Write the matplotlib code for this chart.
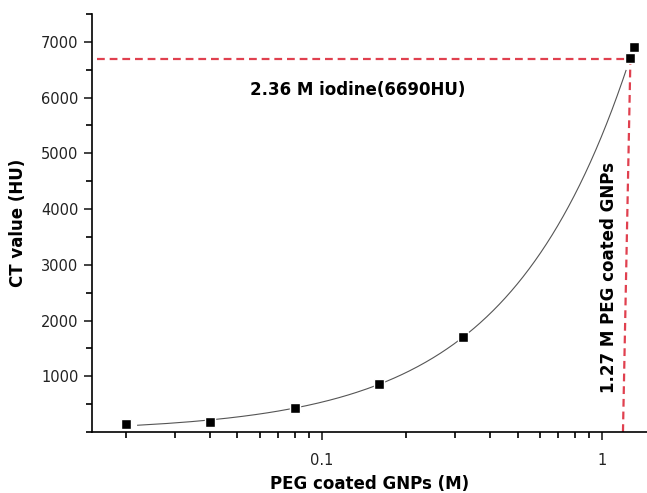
import numpy as np
import matplotlib
matplotlib.use('Agg')
import matplotlib.pyplot as plt
from matplotlib.ticker import MultipleLocator, FixedLocator, NullFormatter

# Data
conc = [0.02, 0.04, 0.08, 0.16, 0.32, 1.26, 1.30]      # PEG coated GNPs (M)
ct = [143, 172, 435, 855, 1713, 6708, 6900]             # CT value (HU)

iodine_hu = 6690
iodine_label = '2.36 M iodine(6690HU)'
gnp_label = '1.27 M PEG coated GNPs'

# linear fit (looks curved on the log axis)
slope, icpt = np.polyfit(conc, ct, 1)
xfit = np.linspace(0.022, 1.22, 400)
yfit = icpt + slope * xfit

fig = plt.figure(figsize=(6.47, 4.93), dpi=100)
ax = fig.add_axes([0.142, 0.1237, 0.858, 0.848])

ax.plot(xfit, yfit, color='#555555', lw=0.8, zorder=2)
ax.plot(conc, ct, 's', color='black', ms=7.5, mec='white', mew=1.0, zorder=3)

red = '#e0404f'
ax.plot([0.0158, 1.265], [iodine_hu, iodine_hu], color=red, lw=1.6,
        dashes=(3.5, 2.2), zorder=1)
ax.plot([1.19, 1.265], [0, iodine_hu], color=red, lw=1.6,
        dashes=(3.5, 2.2), zorder=1)

ax.text(0.0553, 6130, iodine_label, fontsize=12, fontweight='bold',
        ha='left', va='center', family='DejaVu Sans')
ax.text(1.065, 2780, gnp_label, fontsize=12, fontweight='bold',
        rotation=90, ha='center', va='center', family='DejaVu Sans')

ax.set_xscale('log')
ax.set_xlim(0.0151, 1.45)
ax.set_ylim(0, 7500)

ax.xaxis.set_major_locator(FixedLocator([0.1, 1]))
ax.set_xticklabels(['0.1', '1'])
minors = [m * d for d in (0.01, 0.1) for m in range(2, 10)]
ax.xaxis.set_minor_locator(FixedLocator(minors))
ax.xaxis.set_minor_formatter(NullFormatter())

ax.yaxis.set_major_locator(FixedLocator(range(1000, 8000, 1000)))
ax.yaxis.set_minor_locator(MultipleLocator(500))

for s in ('top', 'right'):
    ax.spines[s].set_visible(False)
for s in ('left', 'bottom'):
    ax.spines[s].set_linewidth(1.2)

ax.tick_params(which='major', direction='out', length=6, width=1.2,
               labelsize=10.5, colors='#222222')
ax.tick_params(axis='x', which='major', pad=9)
ax.tick_params(which='minor', direction='out', length=4, width=1.2)

ax.set_xlabel('PEG coated GNPs (M)', fontsize=12, fontweight='bold', labelpad=5)
ax.set_ylabel('CT value (HU)', fontsize=12, fontweight='bold', labelpad=10)

fig.savefig('out.png', dpi=100)
